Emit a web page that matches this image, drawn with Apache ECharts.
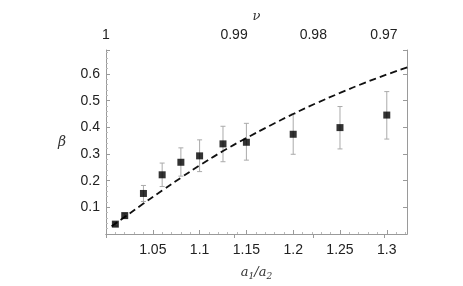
<!DOCTYPE html>
<html>
<head>
<meta charset="utf-8">
<script src="https://cdn.jsdelivr.net/npm/echarts@6/dist/echarts.min.js"></script>
<style>html,body{margin:0;padding:0;background:#fff;}#c{width:463px;height:286px;}</style>
</head>
<body>
<div id="c"></div>
<script>
// measured points
var ratio = [1.01, 1.02, 1.04, 1.06, 1.08, 1.10, 1.125, 1.15, 1.20, 1.25, 1.30];
var beta = [0.037, 0.069, 0.152, 0.222, 0.269, 0.293, 0.338, 0.344, 0.374, 0.399, 0.446];
var betaLo = [0.030, 0.060, 0.122, 0.178, 0.217, 0.234, 0.271, 0.277, 0.299, 0.319, 0.356];
var betaHi = [0.044, 0.078, 0.182, 0.266, 0.323, 0.353, 0.404, 0.415, 0.450, 0.478, 0.534];
// dashed theory curve
var curveRatio = [1.006, 1.02, 1.04, 1.06, 1.08, 1.10, 1.125, 1.15, 1.175, 1.20, 1.225, 1.25, 1.275, 1.30, 1.322];
var curveBeta = [0.029, 0.064, 0.114, 0.163, 0.211, 0.257, 0.311, 0.360, 0.406, 0.450, 0.491, 0.529, 0.565, 0.598, 0.625];
// top axis (nu) tick positions in a1/a2 units and labels
var nuPos = [1.0, 1.1368, 1.2215, 1.297];
var nuLabels = ['1', '0.99', '0.98', '0.97'];

var chart = echarts.init(document.getElementById('c'), null, {renderer: 'canvas'});
var pts = ratio.map(function (r, i) { return [r, beta[i]]; });
var errs = ratio.map(function (r, i) { return [r, betaLo[i], betaHi[i]]; });
var curve = curveRatio.map(function (r, i) { return [r, curveBeta[i]]; });
var lineCol = '#9a9a9a';
var font = 'Liberation Sans, Arial, sans-serif';

chart.setOption({
  animation: false,
  grid: {left: 106, right: 56, top: 50, bottom: 51},
  xAxis: [{
    type: 'value', min: 1, max: 1.3216, interval: 0.05, position: 'bottom',
    axisLine: {show: true, lineStyle: {color: lineCol, width: 1}},
    axisTick: {show: true, inside: true, length: 4, lineStyle: {color: lineCol}},
    minorTick: {show: true, splitNumber: 5, length: 2, lineStyle: {color: '#bbb'}},
    splitLine: {show: false},
    axisLabel: {showMinLabel: false, showMaxLabel: false, margin: 9, fontSize: 14, color: '#222', fontFamily: font},
    name: '{i|a}{s|1}{i|/a}{s|2}', nameLocation: 'middle', nameGap: 30,
    nameTextStyle: {rich: {
      i: {fontFamily: 'DejaVu Serif, serif', fontStyle: 'italic', fontSize: 13, color: '#333'},
      s: {fontFamily: 'DejaVu Serif, serif', fontStyle: 'italic', fontSize: 9, color: '#333', padding: [8, 0, 0, 0]}
    }}
  }, {
    type: 'value', min: 1, max: 1.3216, position: 'top',
    axisLine: {show: true, lineStyle: {color: lineCol, width: 1}},
    axisTick: {show: true, inside: true, length: 4, lineStyle: {color: lineCol}, customValues: nuPos},
    splitLine: {show: false},
    axisLabel: {customValues: nuPos, margin: 8, fontSize: 14, color: '#222', fontFamily: font,
      formatter: function (v) {
        for (var k = 0; k < nuPos.length; k++) { if (Math.abs(nuPos[k] - v) < 1e-6) return nuLabels[k]; }
        return '';
      }},
    name: 'ν', nameLocation: 'middle', nameGap: 27,
    nameTextStyle: {fontFamily: 'DejaVu Serif, serif', fontStyle: 'italic', fontSize: 13, color: '#333'}
  }],
  yAxis: [{
    type: 'value', min: 0, max: 0.69, interval: 0.1, position: 'left',
    axisLine: {show: true, lineStyle: {color: lineCol, width: 1}},
    axisTick: {show: true, inside: true, length: 4, lineStyle: {color: lineCol}},
    minorTick: {show: true, splitNumber: 5, length: 2, lineStyle: {color: '#bbb'}},
    splitLine: {show: false},
    axisLabel: {showMinLabel: false, showMaxLabel: false, margin: 6, fontSize: 14, color: '#222', fontFamily: font},
    name: 'β', nameLocation: 'middle', nameGap: 40, nameRotate: 0,
    nameTextStyle: {fontFamily: 'DejaVu Serif, serif', fontStyle: 'italic', fontSize: 14, color: '#333', padding: [0, 0, -28, 0]}
  }, {
    type: 'value', min: 0, max: 0.69, interval: 0.1, position: 'right',
    axisLine: {show: true, lineStyle: {color: lineCol, width: 1}},
    axisTick: {show: true, inside: true, length: 4, lineStyle: {color: lineCol}},
    splitLine: {show: false},
    axisLabel: {show: false}
  }],
  series: [{
    type: 'line', data: curve, smooth: true, symbol: 'none', xAxisIndex: 0, yAxisIndex: 0,
    lineStyle: {color: '#111', width: 1.8, type: [7, 4]}, z: 3
  }, {
    type: 'custom', data: errs, xAxisIndex: 0, yAxisIndex: 0, z: 2,
    renderItem: function (params, api) {
      var x = api.value(0);
      var lo = api.coord([x, api.value(1)]);
      var hi = api.coord([x, api.value(2)]);
      var w = 2.5;
      var st = {stroke: '#aaa', lineWidth: 1};
      return {type: 'group', children: [
        {type: 'line', shape: {x1: lo[0], y1: lo[1], x2: hi[0], y2: hi[1]}, style: st},
        {type: 'line', shape: {x1: lo[0] - w, y1: lo[1], x2: lo[0] + w, y2: lo[1]}, style: st},
        {type: 'line', shape: {x1: hi[0] - w, y1: hi[1], x2: hi[0] + w, y2: hi[1]}, style: st}
      ]};
    }
  }, {
    type: 'scatter', data: pts, symbol: 'rect', symbolSize: 7, xAxisIndex: 0, yAxisIndex: 0,
    itemStyle: {color: '#000'}, z: 4
  }]
});
</script>
</body>
</html>
